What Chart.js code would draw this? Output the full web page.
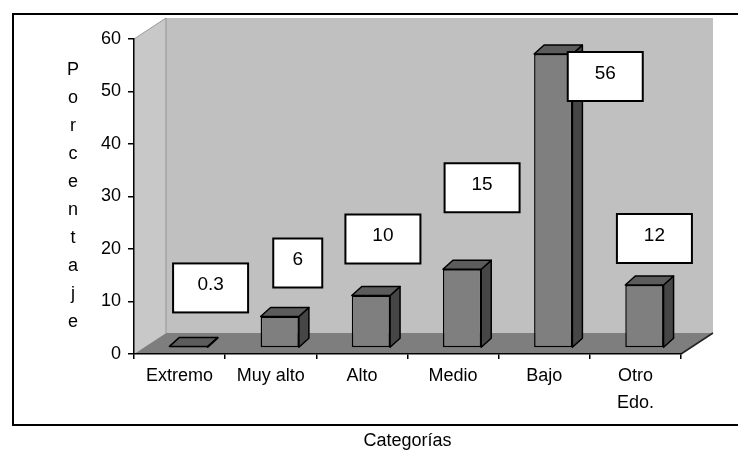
<!DOCTYPE html>
<html>
<head>
<meta charset="utf-8">
<script src="https://cdn.jsdelivr.net/npm/chart.js@4.4.1/dist/chart.umd.min.js"></script>
<style>
  html, body { margin: 0; padding: 0; background: #fff; }
  canvas { display: block; }
</style>
</head>
<body>
<canvas id="c" width="738" height="462"></canvas>
<script>
// Categories and values (percent)
const categories = ['Extremo', 'Muy alto', 'Alto', 'Medio', 'Bajo', ['Otro', 'Edo.']];
const porcentajes = [0.3, 6, 10, 15, 56, 12];
const yTicks = [0, 10, 20, 30, 40, 50, 60];
const yTitle = 'Porcentaje';
const xTitle = 'Categorías';

const FONT = '"Liberation Sans", Arial, Helvetica, sans-serif';
const TEXT_SIZE = 18;

// 3D look: depth of the walls and of the bars
const WALL_DEPTH = { x: 32, y: -21 };
const BAR_SHIFT = { x: 9, y: -6 };
const BAR_DEPTH = { x: 10, y: -9 };
// value box placement: [dx from category centre, dy of box bottom from bar top]
const labelOffsets = [[31, -40], [27, -35], [21, -38], [29, -63], [61, 41], [19, -28]];

function poly(ctx, pts, fill, stroke, lw) {
  ctx.beginPath();
  ctx.moveTo(pts[0][0], pts[0][1]);
  for (let i = 1; i < pts.length; i++) ctx.lineTo(pts[i][0], pts[i][1]);
  ctx.closePath();
  if (fill) { ctx.fillStyle = fill; ctx.fill(); }
  if (stroke) { ctx.strokeStyle = stroke; ctx.lineWidth = lw || 1; ctx.stroke(); }
}

const scene3d = {
  id: 'scene3d',
  beforeInit(chart) {
    // slightly spaced lettering throughout
    if ('letterSpacing' in chart.ctx) chart.ctx.letterSpacing = '1px';
  },
  beforeDraw(chart) {
    const { ctx, chartArea: a } = chart;
    const L = a.left, R = a.right, T = a.top, B = a.bottom;
    const dx = WALL_DEPTH.x, dy = WALL_DEPTH.y;
    ctx.save();
    // back wall
    poly(ctx, [[L + dx, T + dy], [R + dx, T + dy], [R + dx, B + dy], [L + dx, B + dy]], '#c0c0c0');
    // left side wall
    poly(ctx, [[L, T], [L + dx, T + dy], [L + dx, B + dy], [L, B]], '#c8c8c8');
    ctx.strokeStyle = '#a4a4a4';
    ctx.lineWidth = 1.5;
    ctx.beginPath();
    ctx.moveTo(L + dx, T + dy); ctx.lineTo(L + dx, B + dy);
    ctx.stroke();
    ctx.strokeStyle = '#9a9a9a';
    ctx.lineWidth = 1;
    ctx.beginPath();
    ctx.moveTo(L, T); ctx.lineTo(L + dx, T + dy);
    ctx.stroke();
    // floor
    poly(ctx, [[L, B], [R, B], [R + dx, B + dy], [L + dx, B + dy]], '#7e7e7e');
    ctx.strokeStyle = '#222';
    ctx.lineWidth = 1.5;
    ctx.beginPath();
    ctx.moveTo(R, B); ctx.lineTo(R + dx, B + dy);
    ctx.stroke();
    ctx.restore();
  },
  beforeDatasetsDraw(chart) {
    const ctx = chart.ctx;
    const meta = chart.getDatasetMeta(0);
    ctx.save();
    ctx.lineJoin = 'round';
    meta.data.forEach(bar => {
      const { x, y, base, width } = bar.getProps(['x', 'y', 'base', 'width'], true);
      const l = x - width / 2 + BAR_SHIFT.x, r = x + width / 2 + BAR_SHIFT.x;
      const t = y + BAR_SHIFT.y, b = base + BAR_SHIFT.y;
      const ddx = BAR_DEPTH.x, ddy = BAR_DEPTH.y;
      poly(ctx, [[r, t], [r + ddx, t + ddy], [r + ddx, b + ddy], [r, b]], '#464646', '#000', 1.5);
      poly(ctx, [[l, t], [l + ddx, t + ddy], [r + ddx, t + ddy], [r, t]], '#5c5c5c', '#000', 1.5);
    });
    ctx.restore();
    // front faces drawn by Chart.js, set back on the floor
    ctx.save();
    ctx.translate(BAR_SHIFT.x, BAR_SHIFT.y);
  },
  afterDatasetsDraw(chart) {
    const ctx = chart.ctx;
    ctx.restore();
    const xs = chart.scales.x, ys = chart.scales.y;
    ctx.save();
    ctx.font = '19px ' + FONT;
    ctx.textAlign = 'center';
    ctx.textBaseline = 'middle';
    porcentajes.forEach((v, i) => {
      const text = String(v);
      const cx = xs.getPixelForValue(i) + labelOffsets[i][0];
      const bottom = ys.getPixelForValue(v) + labelOffsets[i][1];
      const w = text.length > 1 ? 75 : 49, h = 49;
      ctx.fillStyle = '#fff';
      ctx.fillRect(cx - w / 2, bottom - h, w, h);
      ctx.strokeStyle = '#000';
      ctx.lineWidth = 2;
      ctx.strokeRect(cx - w / 2, bottom - h, w, h);
      ctx.fillStyle = '#000';
      ctx.fillText(text, cx, bottom - h / 2 - 3);
    });
    ctx.restore();
  },
  afterDraw(chart) {
    const ctx = chart.ctx;
    ctx.save();
    // frame around the plot
    ctx.strokeStyle = '#000';
    ctx.lineWidth = 2;
    ctx.strokeRect(13, 14, 740, 411);
    // vertical, letter-by-letter y title
    ctx.fillStyle = '#000';
    ctx.font = TEXT_SIZE + 'px ' + FONT;
    ctx.textAlign = 'center';
    ctx.textBaseline = 'middle';
    const letters = yTitle.split('');
    letters.forEach((ch, i) => ctx.fillText(ch, 73, 70 + i * 28));
    ctx.restore();
  }
};

new Chart(document.getElementById('c'), {
  type: 'bar',
  data: {
    labels: categories,
    datasets: [{
      data: porcentajes,
      backgroundColor: '#7f7f7f',
      borderColor: '#000',
      borderWidth: 1.5,
      borderSkipped: false,
      categoryPercentage: 1,
      barPercentage: 0.42,
      clip: false
    }]
  },
  options: {
    responsive: false,
    animation: false,
    devicePixelRatio: 1,
    layout: { padding: { left: 0, top: 39, right: 57, bottom: 0 } },
    plugins: { legend: { display: false }, tooltip: { enabled: false } },
    scales: {
      x: {
        grid: { offset: true, drawOnChartArea: false, tickLength: 5, color: '#000', lineWidth: 1.5 },
        border: { color: '#000', width: 1.5 },
        ticks: { color: '#000', font: { family: FONT, size: TEXT_SIZE, lineHeight: 1.5 }, padding: 4, maxRotation: 0, autoSkip: false },
        title: { display: true, text: xTitle, color: '#000', font: { family: FONT, size: TEXT_SIZE }, padding: { top: 0, bottom: 10 } },
        afterFit: s => { s.height = 108; }
      },
      y: {
        min: 0,
        max: 60,
        afterBuildTicks: s => { s.ticks = yTicks.map(v => ({ value: v })); },
        grid: { drawOnChartArea: false, tickLength: 6, color: '#000', lineWidth: 1.5 },
        border: { color: '#000', width: 1.5 },
        ticks: { color: '#000', font: { family: FONT, size: TEXT_SIZE }, padding: 7 },
        afterFit: s => { s.width = 134; }
      }
    }
  },
  plugins: [scene3d]
});
</script>
</body>
</html>
